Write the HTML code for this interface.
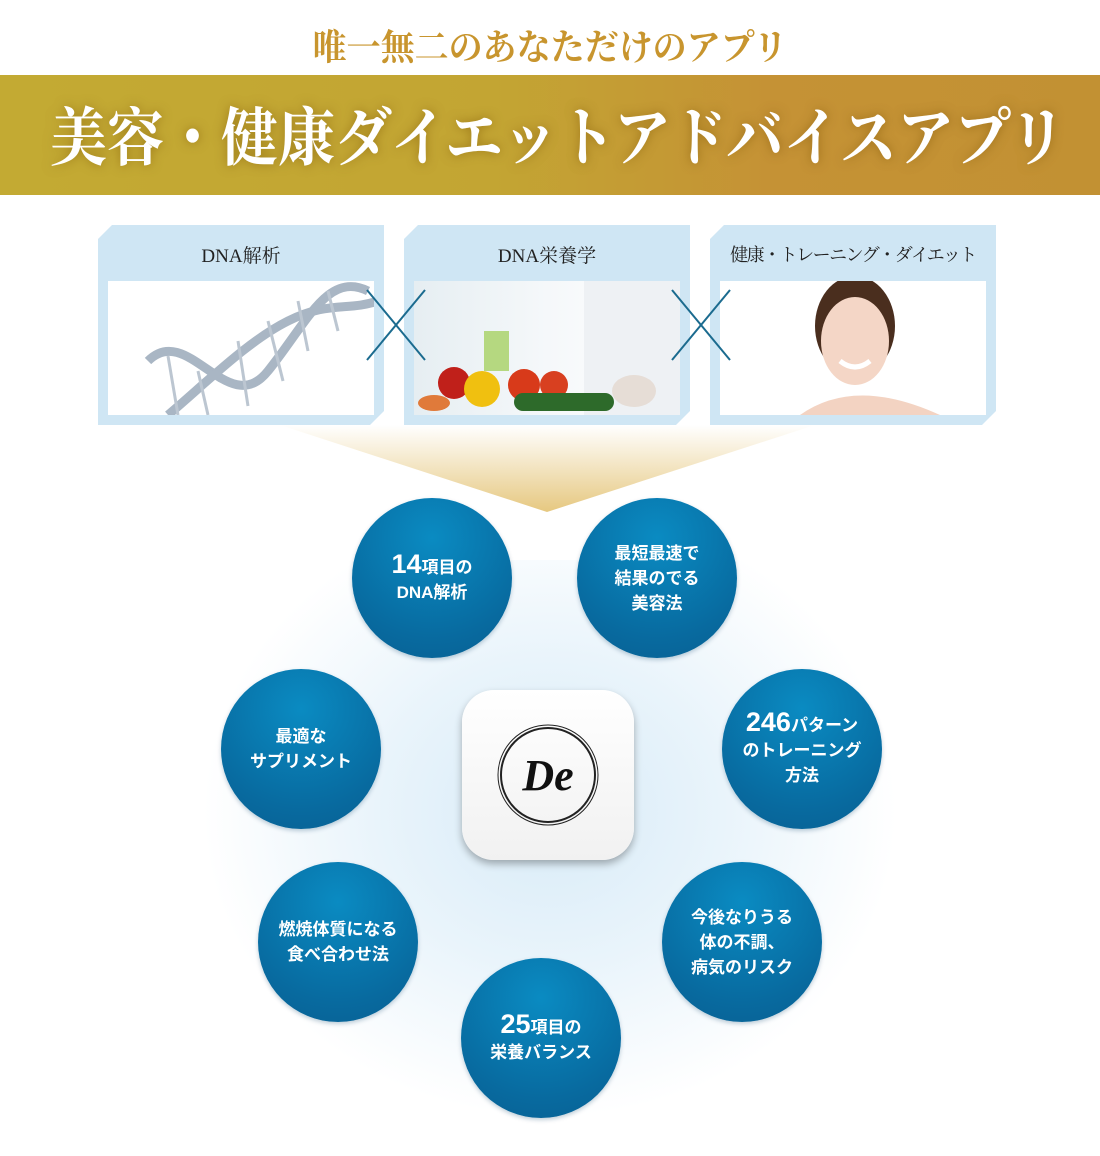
<!DOCTYPE html>
<html><head><meta charset="utf-8"><style>
*{margin:0;padding:0;box-sizing:border-box}
body{width:1100px;height:1156px;background:#fff;position:relative;overflow:hidden;font-family:"Liberation Sans","Noto Sans CJK JP",sans-serif}
.sub{position:absolute;left:0;width:1100px;top:20px;text-align:center;font-family:"Liberation Serif","Noto Serif CJK SC",serif;font-weight:bold;font-size:34px;color:#c8952e;letter-spacing:0px;transform:scaleY(1.05)}
.ban{position:absolute;left:0;top:75px;width:1100px;height:120px;background:linear-gradient(90deg,#c3aa33 0%,#c3a533 45%,#c59235 70%,#c29133 100%)}
.ban div{position:absolute;left:50px;top:12px;font-family:"Liberation Serif","Noto Serif CJK SC",serif;font-weight:bold;font-size:57px;color:#fff;white-space:nowrap;transform:scaleY(1.12);transform-origin:top left;text-shadow:0 0 10px rgba(120,80,0,.5)}
.pan{position:absolute;top:225px;width:286px;height:200px;background:#cfe6f4;clip-path:polygon(14px 0,100% 0,100% 186px,272px 100%,0 100%,0 14px)}
.pan .t{position:absolute;top:16px;width:100%;text-align:center;font-family:"Liberation Serif","Noto Serif CJK SC",serif;font-size:19px;color:#222;white-space:nowrap}
.pan .im{position:absolute;left:10px;top:56px;width:266px;height:134px;background:#fff;overflow:hidden}
.c{position:absolute;width:160px;height:160px;border-radius:50%;background:radial-gradient(circle at 50% 25%,#0a8bc2,#086a9f 70%,#075f92);color:#fff;font-weight:bold;font-size:17px;line-height:25px;text-align:center;display:flex;align-items:center;justify-content:center;box-shadow:0 2px 4px rgba(0,60,100,.25)}
.c b{font-size:27px}
</style></head><body>
<div style="position:absolute;left:200px;top:560px;width:700px;height:560px;background:radial-gradient(ellipse at 50% 45%,#d8ebf7 0%,#e9f4fb 35%,rgba(255,255,255,0) 70%)"></div>
<div class="sub">唯一無二のあなただけのアプリ</div>
<div class="ban"><div>美容・健康ダイエットアドバイスアプリ</div></div>
<svg style="position:absolute;left:0;top:0" width="1100" height="1156">
<defs><linearGradient id="g" x1="0" y1="0" x2="0" y2="1"><stop offset="0" stop-color="#fff"/><stop offset="1" stop-color="#e6c880"/></linearGradient></defs>
<polygon points="280,425 815,425 547,512" fill="url(#g)"/>
</svg>
<div class="pan" style="left:98px"><div class="t">DNA解析</div><div class="im">
<svg width="266" height="134"><g fill="none" stroke="#a9b6c4" stroke-width="9"><path d="M40 80 C80 40 120 140 160 90 S220 -10 260 10"/><path d="M60 134 C100 100 140 60 180 40 S240 30 270 20"/></g><g stroke="#bcc6d1" stroke-width="3"><line x1="60" y1="75" x2="70" y2="134"/><line x1="90" y1="90" x2="100" y2="134"/><line x1="130" y1="60" x2="140" y2="125"/><line x1="160" y1="40" x2="175" y2="100"/><line x1="190" y1="20" x2="200" y2="70"/><line x1="220" y1="10" x2="230" y2="50"/></g></svg></div></div>
<div class="pan" style="left:404px"><div class="t">DNA栄養学</div><div class="im" style="background:linear-gradient(90deg,#e6eef2,#f5f8fa 50%,#fff)">
<svg width="266" height="134"><rect x="170" y="0" width="96" height="134" fill="#eef1f4"/><circle cx="40" cy="102" r="16" fill="#c0201a"/><circle cx="68" cy="108" r="18" fill="#f0c010"/><circle cx="110" cy="104" r="16" fill="#d83a1a"/><circle cx="140" cy="104" r="14" fill="#d84020"/><rect x="100" y="112" width="100" height="18" rx="9" fill="#2d6a2a"/><rect x="70" y="50" width="25" height="40" fill="#b5d880"/><ellipse cx="20" cy="122" rx="16" ry="8" fill="#e07a3a"/><ellipse cx="220" cy="110" rx="22" ry="16" fill="#e6ddd6"/></svg></div></div>
<div class="pan" style="left:710px"><div class="t" style="font-size:18px;letter-spacing:-1.5px">健康・トレーニング・ダイエット</div><div class="im">
<svg width="266" height="134"><ellipse cx="135" cy="45" rx="40" ry="50" fill="#4a2e1e"/><ellipse cx="135" cy="60" rx="34" ry="44" fill="#f4d6c6"/><path d="M80 134 Q135 95 220 134Z" fill="#f3d3c2"/><path d="M120 80 Q135 92 150 80" stroke="#fff" stroke-width="5" fill="none"/></svg></div></div>
<svg style="position:absolute;left:0;top:0" width="1100" height="1156"><g stroke="#1b6b8f" stroke-width="2"><line x1="367" y1="290" x2="425" y2="360"/><line x1="425" y1="290" x2="367" y2="360"/><line x1="672" y1="290" x2="730" y2="360"/><line x1="730" y1="290" x2="672" y2="360"/></g></svg>
<div class="c" style="left:352px;top:498px"><div><b>14</b>項目の<br>DNA解析</div></div>
<div class="c" style="left:577px;top:498px"><div>最短最速で<br>結果のでる<br>美容法</div></div>
<div class="c" style="left:221px;top:669px"><div>最適な<br>サプリメント</div></div>
<div class="c" style="left:722px;top:669px"><div><b>246</b>パターン<br>のトレーニング<br>方法</div></div>
<div class="c" style="left:258px;top:862px"><div>燃焼体質になる<br>食べ合わせ法</div></div>
<div class="c" style="left:662px;top:862px"><div>今後なりうる<br>体の不調、<br>病気のリスク</div></div>
<div class="c" style="left:461px;top:958px"><div><b>25</b>項目の<br>栄養バランス</div></div>
<div style="position:absolute;left:462px;top:690px;width:172px;height:170px;border-radius:32px;background:linear-gradient(#fff,#f1f1f1);box-shadow:0 4px 8px rgba(0,0,0,.3)">
<svg width="172" height="170"><circle cx="86" cy="85" r="50" fill="none" stroke="#222" stroke-width="1"/><circle cx="86" cy="85" r="47" fill="none" stroke="#222" stroke-width="2"/><text x="86" y="100" text-anchor="middle" font-family="Liberation Serif,serif" font-style="italic" font-weight="bold" font-size="44" fill="#111">De</text></svg></div>
</body></html>
